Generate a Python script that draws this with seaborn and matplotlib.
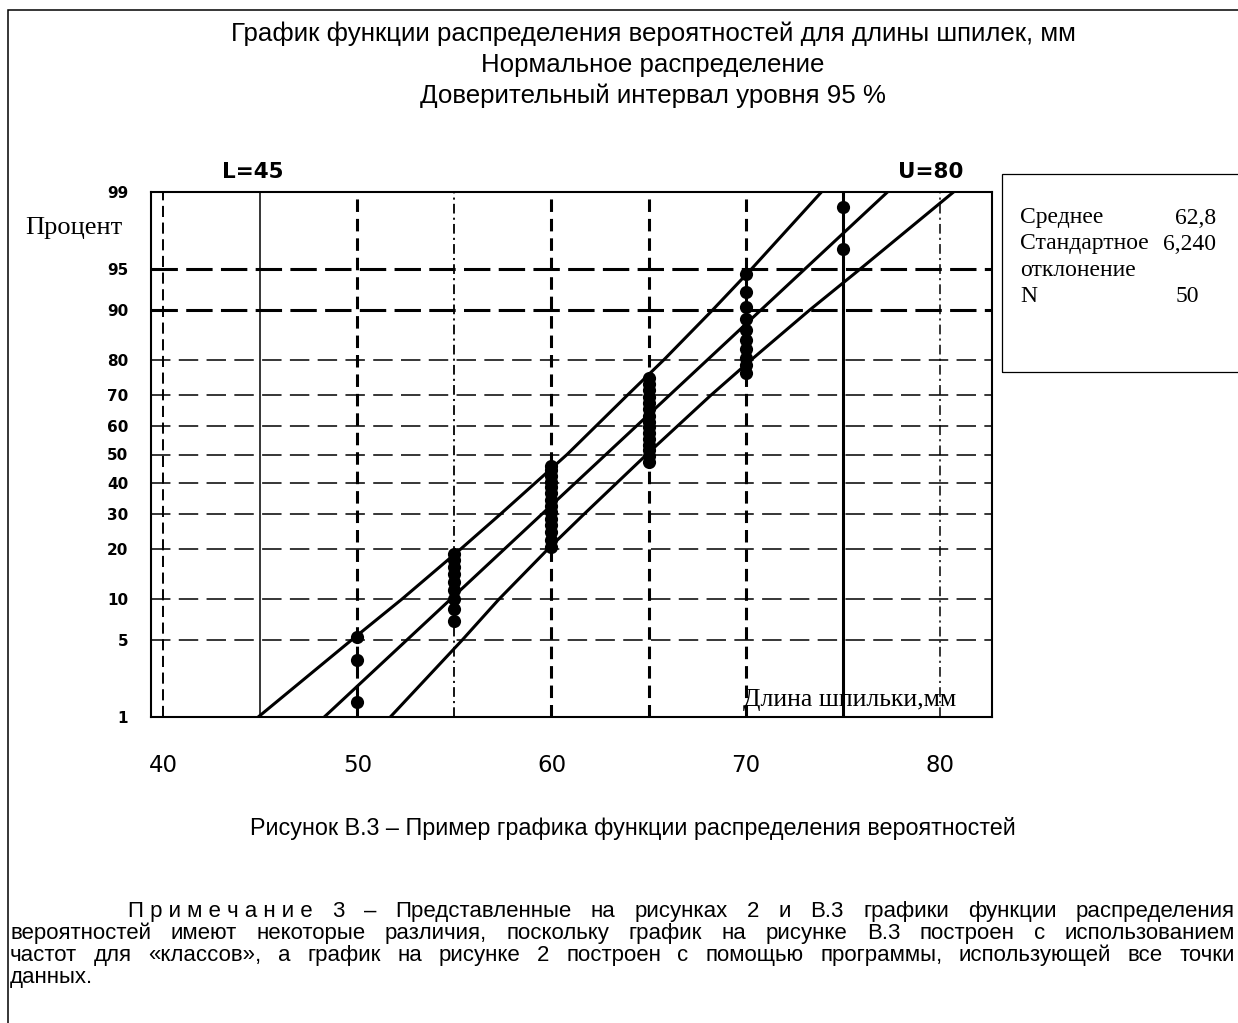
# -*- coding: utf-8 -*-
# %% Libraries
from statistics import NormalDist

import numpy as np
import pandas as pd
import matplotlib.pyplot as plt
import seaborn as sns
from matplotlib.patches import Rectangle

# %% Data
# cumulative percent of every observation, grouped by class midpoint (mm)
class_x = [50, 55, 60, 65, 70, 75]
pct_50 = [1.4, 3.4, 5.3]
pct_55 = [7.0, 8.5, 10.0, 11.5, 13.0, 14.5, 16.0, 17.5, 19.0]
pct_60 = [20.5, 22.5, 24.5, 26.5, 28.5, 30.5, 32.5, 34.5, 36.5, 38.5, 40.5, 42.5, 44.5, 46.0]
pct_65 = [47.5, 49.5, 51.5, 53.5, 55.5, 57.5, 59.5, 61.5, 63.5, 65.5, 67.5, 69.5, 71.5, 73.5, 75.0]
pct_70 = [76.5, 78.5, 80.5, 82.5, 84.5, 86.5, 88.5, 90.5, 92.5, 94.5]
pct_75 = [96.6, 98.6]

# fitted line and 95 % confidence bands (x in mm at given percent)
band_pct = [1, 5, 10, 20, 30, 50, 70, 80, 90, 95, 99]
band_lower = [44.9, 49.7, 52.3, 55.3, 57.4, 60.8, 63.9, 65.8, 68.3, 70.3, 73.9]
band_upper = [51.7, 55.4, 57.3, 59.8, 61.7, 64.9, 68.2, 70.3, 73.3, 75.9, 80.7]
fit_pct = [1, 99]
fit_x = [48.3, 77.3]

y_ticks = [1, 5, 10, 20, 30, 40, 50, 60, 70, 80, 90, 95, 99]
x_ticks = [40, 50, 60, 70, 80]
stats_names = ["Среднее", "Стандартное", "отклонение", "N"]
stats_values = ["62,8", "6,240", "", "50"]

title_lines = ["График функции распределения вероятностей для длины шпилек, мм",
               "Нормальное распределение",
               "Доверительный интервал уровня 95 %"]
caption = "Рисунок В.3 – Пример графика функции распределения вероятностей"
note_lines = [
    ["П р и м е ч а н и е", "3", "–", "Представленные", "на", "рисунках", "2", "и", "В.3",
     "графики", "функции", "распределения"],
    ["вероятностей", "имеют", "некоторые", "различия,", "поскольку", "график", "на", "рисунке",
     "В.3", "построен", "с", "использованием"],
    ["частот", "для", "«классов»,", "а", "график", "на", "рисунке", "2", "построен", "с", "помощью",
     "программы,", "использующей", "все", "точки"],
    ["данных."],
]

points = pd.DataFrame({
    "x": np.repeat(class_x, [len(p) for p in [pct_50, pct_55, pct_60, pct_65, pct_70, pct_75]]),
    "pct": pct_50 + pct_55 + pct_60 + pct_65 + pct_70 + pct_75,
})

# %% Style
sns.set_style("white")
plt.rcParams['font.family'] = ['Liberation Sans', 'DejaVu Sans']
plt.rcParams['lines.scale_dashes'] = False
plt.rcParams['text.color'] = 'black'

W, H = 1238, 1023
fig = plt.figure(figsize=(W / 100, H / 100), dpi=100)
fig.patch.set_facecolor('white')

# outer frame (left and top edges visible, rest cropped)
fig.add_artist(Rectangle((8 / W, -0.05), 1.2, 1 - 10 / H + 0.05, transform=fig.transFigure,
                         fill=False, lw=1.1, edgecolor='black', clip_on=False))

ax = fig.add_axes([151 / W, 1 - 717 / H, (992 - 151) / W, (717 - 192) / H])

# probability (probit) scale for y
nd = NormalDist()
_ppf = np.vectorize(lambda p: nd.inv_cdf(min(max(p / 100.0, 1e-9), 1 - 1e-9)), otypes=[float])
_cdf = np.vectorize(lambda z: nd.cdf(z) * 100.0, otypes=[float])
ax.set_yscale('function', functions=(_ppf, _cdf))
ax.set_ylim(1, 99)
ax.set_xlim(39.38, 82.68)

# %% Grid lines
for p in [5, 10, 20, 30, 40, 50, 60, 70, 80]:
    ax.axhline(p, color='black', lw=1.1, dashes=(14, 6), zorder=1)
for p in [90, 95]:
    ax.axhline(p, color='black', lw=2.2, dashes=(19, 6), zorder=1)
for xv in [50, 60, 65, 70]:
    ax.axvline(xv, color='black', lw=2.2, dashes=(9, 5), zorder=1)
ax.axvline(40, color='black', lw=1.4, dashes=(8, 4), zorder=1)
ax.axvline(55, color='black', lw=1.3, dashes=(7, 3, 1.5, 3), zorder=1)
ax.axvline(80, color='black', lw=1.1, dashes=(7, 3, 1.5, 3), zorder=1)
ax.axvline(45, color='black', lw=1.1, zorder=1)
ax.axvline(75, color='black', lw=2.2, zorder=1)

# %% Fitted line, bands and points
sns.lineplot(x=band_lower, y=band_pct, ax=ax, color='black', lw=2.2, sort=False,
             estimator=None, zorder=2)
sns.lineplot(x=band_upper, y=band_pct, ax=ax, color='black', lw=2.2, sort=False,
             estimator=None, zorder=2)
sns.lineplot(x=fit_x, y=fit_pct, ax=ax, color='black', lw=2.2, sort=False,
             estimator=None, zorder=2)
sns.scatterplot(data=points, x='x', y='pct', ax=ax, color='black', s=90, marker='o',
                edgecolor='black', linewidth=0, zorder=3)

# %% Axes decoration
ax.set_xlabel("")
ax.set_ylabel("")
ax.set_xticks(x_ticks)
ax.set_xticklabels([str(v) for v in x_ticks], family='DejaVu Sans', fontsize=16.5)
ax.set_yticks(y_ticks)
ax.set_yticklabels([str(v) for v in y_ticks], family='DejaVu Sans', fontsize=11,
                   fontweight='bold')
ax.yaxis.set_minor_locator(plt.NullLocator())
ax.tick_params(axis='x', direction='out', length=9.5, width=1.4, pad=17, colors='black')
ax.tick_params(axis='y', direction='out', length=8.5, width=1.1, pad=8, colors='black')
for sp in ax.spines.values():
    sp.set_color('black')
    sp.set_linewidth(1.5)

ax.text(44.6, 1.02, "L=45", transform=ax.get_xaxis_transform(), ha='center', va='bottom',
        family='DejaVu Sans', fontweight='bold', fontsize=15.5)
ax.text(79.5, 1.02, "U=80", transform=ax.get_xaxis_transform(), ha='center', va='bottom',
        family='DejaVu Sans', fontweight='bold', fontsize=15.5)
ax.text((743 - 151) / 841, 0.032, "Длина шпильки,мм", transform=ax.transAxes, ha='left',
        va='center', family='Liberation Serif', fontsize=18.5)
fig.text(25 / W, 1 - 228 / H, "Процент", ha='left', va='center', family='Liberation Serif',
         fontsize=19)

# %% Statistics box
fig.add_artist(Rectangle((1002 / W, 1 - 372 / H), 0.5, (372 - 174) / H,
                         transform=fig.transFigure, fill=False, lw=0.9, edgecolor='black',
                         clip_on=False))
row_y = [218, 244, 270, 297]
val_x = [1175, 1163, 1175, 1176]
for name, val, yy, vx in zip(stats_names, stats_values, row_y, val_x):
    fig.text(1020 / W, 1 - yy / H, name, ha='left', va='center', family='Liberation Serif',
             fontsize=17)
    fig.text(vx / W, 1 - yy / H, val, ha='left', va='center', family='Liberation Serif',
             fontsize=17)

# %% Titles and caption
for line, yy in zip(title_lines, [34, 65, 96]):
    fig.text(653 / W, 1 - yy / H, line, ha='center', va='center', fontsize=18.6)
fig.text(633 / W, 1 - 828 / H, caption, ha='center', va='center', fontsize=16.8)

# %% Justified note
renderer = fig.canvas.get_renderer()


def justify(tokens, x0, x1, yy, fs, stretch=True):
    texts = [fig.text(0, 1 - yy / H, t, ha='left', va='baseline', fontsize=fs) for t in tokens]
    widths = [t.get_window_extent(renderer).width for t in texts]
    if stretch and len(tokens) > 1:
        gap = (x1 - x0 - sum(widths)) / (len(tokens) - 1)
    else:
        gap = texts[0].get_window_extent(renderer).height * 0.25
    xx = x0
    for t, w in zip(texts, widths):
        t.set_x(xx / W)
        xx += w + gap


note_base = [917, 939, 961, 983]
note_x0 = [128, 10, 10, 10]
for i, (tokens, yy, x0) in enumerate(zip(note_lines, note_base, note_x0)):
    justify(tokens, x0, 1235, yy, 16, stretch=(i < 3))

fig.savefig('out.png', dpi=100, facecolor='white')
